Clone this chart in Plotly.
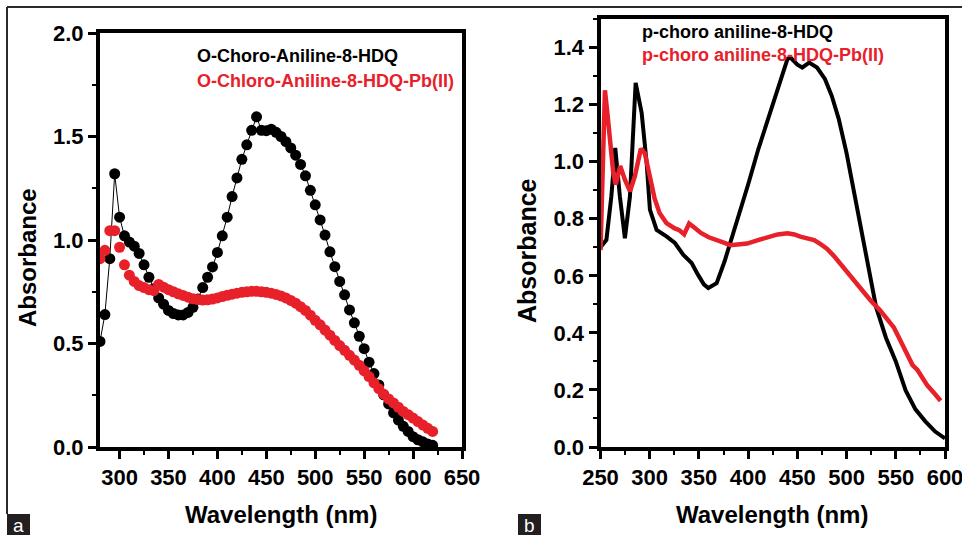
import plotly.graph_objects as go

# ---------------- Panel a data (O-chloro aniline) ----------------
a_wl = [280, 285, 290, 295, 300, 305, 310, 315, 320, 325, 330, 335, 340, 345, 350,
        355, 360, 365, 370, 375, 380, 385, 390, 395, 400, 405, 410, 415, 420, 425,
        430, 435, 440, 445, 450, 455, 460, 465, 470, 475, 480, 485, 490, 495, 500,
        505, 510, 515, 520, 525, 530, 535, 540, 545, 550, 555, 560, 565, 570, 575,
        580, 585, 590, 595, 600, 605, 610, 615, 620]
a_ligand = [0.51, 0.64, 0.91, 1.32, 1.11, 1.02, 0.99, 0.97, 0.935, 0.88, 0.82, 0.765,
            0.72, 0.69, 0.66, 0.645, 0.638, 0.638, 0.65, 0.675, 0.715, 0.77, 0.82, 0.87,
            0.94, 1.02, 1.11, 1.21, 1.30, 1.39, 1.46, 1.53, 1.595, 1.53, 1.528, 1.535,
            1.52, 1.50, 1.475, 1.445, 1.41, 1.365, 1.31, 1.24, 1.17, 1.097, 1.024, 0.943,
            0.871, 0.80, 0.735, 0.662, 0.60, 0.535, 0.475, 0.41, 0.355, 0.30, 0.252,
            0.208, 0.165, 0.13, 0.10, 0.075, 0.05, 0.035, 0.025, 0.015, 0.008]
a_complex = [0.91, 0.95, 1.045, 1.045, 0.965, 0.88, 0.83, 0.80, 0.78, 0.77, 0.76, 0.755,
             0.785, 0.772, 0.76, 0.75, 0.74, 0.732, 0.724, 0.716, 0.712, 0.71, 0.711,
             0.715, 0.72, 0.727, 0.733, 0.738, 0.743, 0.747, 0.75, 0.752, 0.752, 0.75,
             0.747, 0.743, 0.737, 0.73, 0.72, 0.708, 0.695, 0.678, 0.66, 0.637, 0.612,
             0.59, 0.565, 0.54, 0.515, 0.49, 0.467, 0.443, 0.42, 0.395, 0.368, 0.34,
             0.31, 0.282, 0.255, 0.232, 0.213, 0.192, 0.172, 0.156, 0.14, 0.123, 0.106,
             0.09, 0.075]

# ---------------- Panel b data (p-chloro aniline) ----------------
b_lig_wl = [250, 256, 261, 265, 269.7, 274.8, 279.9, 285.7, 291.8, 296.9, 300.2, 307,
            317, 325.6, 334, 342.6, 349, 355, 359.5, 364, 368, 376, 380, 390, 400, 410,
            420, 430, 440, 443, 450, 455, 462, 470, 478, 485, 492, 500, 510, 520, 530,
            540, 550, 560, 570, 580, 590, 600]
b_ligand = [0.70, 0.726, 0.878, 1.048, 0.878, 0.732, 0.878, 1.276, 1.171, 0.995, 0.832,
            0.761, 0.738, 0.715, 0.674, 0.645, 0.604, 0.57, 0.557, 0.565, 0.574, 0.65,
            0.695, 0.80, 0.92, 1.04, 1.15, 1.257, 1.36, 1.365, 1.34, 1.33, 1.347, 1.33,
            1.29, 1.23, 1.15, 1.03, 0.85, 0.66, 0.49, 0.383, 0.30, 0.198, 0.132, 0.09,
            0.054, 0.03]
b_cpx_wl = [250, 252.5, 254.5, 257, 260, 263, 265.5, 270, 275, 280, 285, 291, 295, 300,
            305, 310, 317, 325, 330, 335, 340, 345, 352, 360, 366, 376, 382, 390, 399,
            410, 420, 430, 440, 447, 453, 460, 467, 474, 480, 487, 494, 500, 507, 515,
            524, 534, 541, 548, 553, 558, 563, 567, 572, 577, 582, 590, 595.5]
b_complex = [0.69, 1.10, 1.25, 1.17, 1.08, 0.96, 0.92, 0.985, 0.935, 0.896, 0.95, 1.045,
             1.03, 0.94, 0.87, 0.82, 0.785, 0.767, 0.76, 0.745, 0.783, 0.77, 0.75, 0.735,
             0.726, 0.715, 0.707, 0.708, 0.713, 0.725, 0.737, 0.745, 0.749, 0.745, 0.737,
             0.733, 0.725, 0.71, 0.695, 0.67, 0.64, 0.615, 0.587, 0.55, 0.515, 0.479,
             0.45, 0.419, 0.385, 0.347, 0.31, 0.287, 0.27, 0.245, 0.216, 0.185, 0.162]

a_names = ["O-Choro-Aniline-8-HDQ", "O-Chloro-Aniline-8-HDQ-Pb(II)"]
b_names = ["p-choro aniline-8-HDQ", "p-choro aniline-8-HDQ-Pb(II)"]
x_title = "Wavelength (nm)"
y_title = "Absorbance"

RED = "#E8202A"
BLACK = "#000000"
FONT = "Liberation Sans, Arial, sans-serif"
W, H = 962, 535


def px(x):
    return x / W


def py(y):
    return (H - y) / H


fig = go.Figure()
fig.add_trace(go.Scatter(x=a_wl, y=a_ligand, mode="lines+markers", xaxis="x", yaxis="y",
                         line=dict(color=BLACK, width=1),
                         marker=dict(color=BLACK, size=11), showlegend=False))
fig.add_trace(go.Scatter(x=a_wl, y=a_complex, mode="markers", xaxis="x", yaxis="y",
                         marker=dict(color=RED, size=11), showlegend=False))
fig.add_trace(go.Scatter(x=b_lig_wl, y=b_ligand, mode="lines", xaxis="x2", yaxis="y2",
                         line=dict(color=BLACK, width=4), showlegend=False))
fig.add_trace(go.Scatter(x=b_cpx_wl, y=b_complex, mode="lines", xaxis="x2", yaxis="y2",
                         line=dict(color=RED, width=4.5), showlegend=False))

tickfont = dict(family=FONT, size=22, color="black", weight="bold")


def axis(domain, rng, dtick, minor_dtick, anchor, tick0=None):
    d = dict(domain=domain, range=rng, dtick=dtick, anchor=anchor, automargin=False,
             showline=True, linecolor="black", linewidth=4, mirror=True,
             ticks="outside", ticklen=8, tickwidth=3, tickcolor="black",
             ticklabeloverflow="allow",
             showgrid=False, zeroline=False, tickfont=tickfont,
             minor=dict(dtick=minor_dtick, ticks="outside", ticklen=4, tickwidth=2,
                        tickcolor="black", showgrid=False))
    if tick0 is not None:
        d["tick0"] = tick0
    return d


fig.update_layout(
    width=W, height=H, margin=dict(l=0, r=0, t=0, b=0),
    paper_bgcolor="white", plot_bgcolor="white",
    xaxis=axis([px(100), px(462)], [280, 650], 50, 25, "y", tick0=300),
    yaxis=axis([py(447), py(33)], [0, 2.0], 0.5, 0.25, "x"),
    xaxis2=axis([px(600.5), px(945)], [250, 600], 50, 25, "y2", tick0=250),
    yaxis2=axis([py(447), py(19)], [0, 1.5], 0.2, 0.1, "x2", tick0=0),
)
fig.layout.yaxis.tickformat = ".1f"
fig.layout.yaxis2.tickformat = ".1f"

ann = []


def text(x, y, t, size, color="black", xanchor="center", angle=0, bold=True):
    ann.append(dict(x=px(x), y=py(y), xref="paper", yref="paper", text=(f"<b>{t}</b>" if bold else t),
                    showarrow=False, xanchor=xanchor, yanchor="middle", textangle=angle,
                    font=dict(family=FONT, size=size, color=color)))


# legends
text(195, 56, a_names[0], 18, BLACK, "left")
text(195, 81, a_names[1], 18, RED, "left")
text(640, 32, b_names[0], 18, BLACK, "left")
text(640, 55, b_names[1], 18, RED, "left")
# axis titles
text(281, 514, x_title, 24)
text(772, 514, x_title, 24)
text(27, 258, y_title, 24, angle=-90)
text(527, 251, y_title, 25, angle=-90)
# panel labels
text(18.5, 525, "a", 19, "white", bold=False)
text(529.5, 525, "b", 19, "white", bold=False)

shapes = [
    dict(type="line", xref="paper", yref="paper", x0=px(7), x1=1, y0=py(7), y1=py(7),
         line=dict(color="#2a2a2a", width=2)),
    dict(type="line", xref="paper", yref="paper", x0=px(7), x1=px(7), y0=py(7), y1=py(514),
         line=dict(color="#2a2a2a", width=2)),
    dict(type="rect", xref="paper", yref="paper", x0=px(7), x1=px(30), y0=py(535), y1=py(514),
         fillcolor="#231f20", line=dict(width=0), layer="below"),
    dict(type="rect", xref="paper", yref="paper", x0=px(518), x1=px(541), y0=py(535), y1=py(514),
         fillcolor="#231f20", line=dict(width=0), layer="below"),
]
fig.update_layout(annotations=ann, shapes=shapes)

fig.write_html("out.html", config={"displayModeBar": False},
               post_script="document.body.style.margin='0';document.body.style.padding='0';"
                           "document.body.style.overflow='hidden';")
